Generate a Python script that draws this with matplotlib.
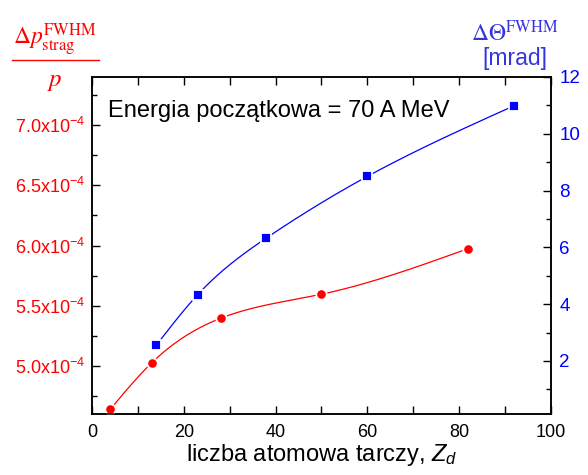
import matplotlib
matplotlib.use('Agg')
import matplotlib.pyplot as plt
import numpy as np
from matplotlib.lines import Line2D
from matplotlib.ticker import MultipleLocator, FixedLocator

plt.rcParams['font.family'] = ['Liberation Sans', 'DejaVu Sans']
plt.rcParams['mathtext.fontset'] = 'custom'
plt.rcParams['mathtext.rm'] = 'Liberation Sans'
plt.rcParams['mathtext.it'] = 'Liberation Sans:italic'

# straggling of momentum (left axis) and angular straggling (right axis)
z_mom = [4, 13, 28, 50, 82]
dp_mom = [4.64e-4, 5.025e-4, 5.395e-4, 5.595e-4, 5.975e-4]
z_ang = [14, 23, 38, 60, 92]
dtheta_ang = [2.55, 4.33, 6.33, 8.50, 10.99]

left_ticks = [5.0e-4, 5.5e-4, 6.0e-4, 6.5e-4, 7.0e-4]
left_labels = [r'5.0x10$^{-4}$', r'5.5x10$^{-4}$', r'6.0x10$^{-4}$',
               r'6.5x10$^{-4}$', r'7.0x10$^{-4}$']
right_ticks = [2, 4, 6, 8, 10, 12]


def natural_spline(x, y, n=300):
    x = np.asarray(x, float)
    y = np.asarray(y, float)
    k = len(x)
    h = np.diff(x)
    a = np.zeros((k, k))
    b = np.zeros(k)
    a[0, 0] = a[-1, -1] = 1.0
    for i in range(1, k - 1):
        a[i, i - 1] = h[i - 1]
        a[i, i] = 2 * (h[i - 1] + h[i])
        a[i, i + 1] = h[i]
        b[i] = 3 * ((y[i + 1] - y[i]) / h[i] - (y[i] - y[i - 1]) / h[i - 1])
    c = np.linalg.solve(a, b)
    xs = np.linspace(x[0], x[-1], n)
    idx = np.clip(np.searchsorted(x, xs) - 1, 0, k - 2)
    dx = xs - x[idx]
    hi = h[idx]
    bi = (y[idx + 1] - y[idx]) / hi - hi * (2 * c[idx] + c[idx + 1]) / 3
    di = (c[idx + 1] - c[idx]) / (3 * hi)
    ys = y[idx] + bi * dx + c[idx] * dx ** 2 + di * dx ** 3
    return xs, ys


fig = plt.figure(figsize=(5.88, 4.75), dpi=100)
ax = fig.add_axes([0.1565, 0.1284, 0.7805, 0.7095])
ax2 = ax.twinx()

xs, ys = natural_spline(z_mom, dp_mom)
ax.plot(xs, ys, color='red', lw=0.9, zorder=2)
ax.plot(z_mom, dp_mom, 'o', color='red', ms=7.5, mec='white', mew=1.3, zorder=3)

xs, ys = natural_spline(z_ang, dtheta_ang)
ax2.plot(xs, ys, color='blue', lw=0.9, zorder=2)
ax2.plot(z_ang, dtheta_ang, 's', color='blue', ms=7.5, mec='white', mew=1.3, zorder=3)

ax.set_xlim(0, 100)
ax.set_ylim(4.6e-4, 7.4e-4)
ax2.set_ylim(0.13, 12)

ax.xaxis.set_major_locator(MultipleLocator(20))
ax.xaxis.set_minor_locator(MultipleLocator(10))
ax.yaxis.set_major_locator(FixedLocator(left_ticks))
ax.set_yticklabels(left_labels)
ax.yaxis.set_minor_locator(MultipleLocator(0.25e-4))
ax2.yaxis.set_major_locator(FixedLocator(right_ticks))
ax2.yaxis.set_minor_locator(MultipleLocator(1))

for a in (ax, ax2):
    for s in a.spines.values():
        s.set_linewidth(1.1)
ax.tick_params(which='both', direction='in', top=True, width=1.0, labelsize=13)
ax.tick_params(which='major', length=6)
ax.tick_params(which='minor', length=3.5)
ax.tick_params(axis='x', which='minor', top=True, length=6)
ax.tick_params(axis='y', colors='black', labelcolor='red', pad=5)
ax.tick_params(axis='x', pad=7)
ax2.tick_params(which='both', direction='in', width=1.0, labelsize=13.5,
                labelcolor='blue', pad=6)
ax2.tick_params(which='major', length=6)
ax2.tick_params(which='minor', length=3.5)

ax.set_xlabel(r'liczba atomowa tarczy, $Z_d$', fontsize=17, labelpad=1)

ax.text(0.035, 0.9, 'Energia początkowa = 70 A MeV', transform=ax.transAxes,
        fontsize=17, va='center', ha='left')

# left axis title as a stacked fraction
fig.text(55 / 588, 1 - 40 / 475, r'$\Delta p^{\rm FWHM}_{\rm strag}$', color='red',
         fontsize=17, ha='center', va='center', math_fontfamily='stix')
fig.add_artist(Line2D([12 / 588, 99 / 588], [1 - 60 / 475, 1 - 60 / 475],
                      color='red', lw=1.0))
fig.text(55 / 588, 1 - 81 / 475, r'$p$', color='red', fontsize=18,
         ha='center', va='center', math_fontfamily='stix')

# right axis title
fig.text(515 / 588, 1 - 33 / 475, r'$\Delta\Theta^{\rm FWHM}$', color='#3535e0',
         fontsize=17, ha='center', va='center', math_fontfamily='stix')
fig.text(515 / 588, 1 - 58 / 475, '[mrad]', color='#3535e0', fontsize=16.5,
         ha='center', va='center')

fig.savefig('out.png', dpi=100)
